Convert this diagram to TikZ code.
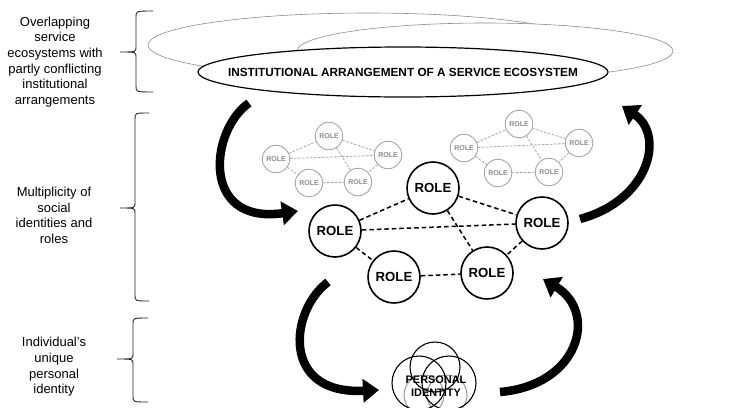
\documentclass[tikz,border=0pt]{standalone}
\usepackage{fontspec}
\setmainfont{Liberation Sans}
\usetikzlibrary{arrows.meta,shapes.geometric}
\begin{document}
\begin{tikzpicture}[x=1pt,y=-1pt,
  lbl/.style={align=center,font=\fontsize{13}{15.6}\selectfont},
  grayell/.style={ellipse,draw=black!45,line width=0.6pt,fill=white,inner sep=0pt},
  bigrole/.style={circle,draw,line width=1.6pt,minimum size=52pt,inner sep=0pt,fill=white,font=\fontsize{13.2}{15}\selectfont\bfseries},
  smallrole/.style={circle,draw=black!35,line width=0.9pt,minimum size=27.5pt,inner sep=0pt,fill=white,text=black!45,font=\fontsize{7}{8}\selectfont\bfseries},
  blink/.style={line width=1.5pt,dash pattern=on 4.5pt off 3pt},
  glink/.style={line width=0.8pt,draw=black!35,dash pattern=on 2.5pt off 1.5pt},
  bigarrow/.style={line width=8.5pt,-{Triangle[length=16pt,width=23pt]}},
  bracestyle/.style={line width=0.9pt,draw=black!85},
  pcirc/.style={circle,draw,line width=1.1pt,inner sep=0pt},
  gcirc/.style={circle,draw=black!40,line width=1pt,inner sep=0pt}
]
\useasboundingbox (0,0) rectangle (735,407);

% ---- braces ----
\draw[bracestyle] (153,11) .. controls (136,11) .. (136,17) -- (136,47) .. controls (136,52) .. (120,52) .. controls (136,52) .. (136,57) -- (136,86) .. controls (136,92) .. (153,92);
\draw[bracestyle] (149,113) .. controls (135,113) .. (135,119) -- (135,203) .. controls (135,208) .. (120,208) .. controls (135,208) .. (135,213) -- (135,295) .. controls (135,301) .. (149,301);
\draw[bracestyle] (148,318) .. controls (133,318) .. (133,324) -- (133,354) .. controls (133,359) .. (117,359) .. controls (133,359) .. (133,364) -- (133,396) .. controls (133,402) .. (148,402);

% ---- left labels ----
\node[lbl] (lab1) at (55,62) {Overlapping\\service\\ecosystems with\\partly conflicting\\institutional\\arrangements};
\node[lbl] (lab2) at (54,215.5) {Multiplicity of\\social\\identities and\\roles};
\node[lbl] (lab3) at (54,367) {Individual's\\unique\\personal\\identity};

% ---- ecosystem ellipses ----
\node[grayell,minimum width=440pt,minimum height=64pt] (eco1) at (368,45) {};
\node[grayell,minimum width=376pt,minimum height=56pt] (eco2) at (485,51) {};
\node[ellipse,draw,line width=1.2pt,fill=white,minimum width=410pt,minimum height=50pt] (inst) at (403,72) {};
\node[font=\fontsize{11.8}{14}\selectfont\bfseries] (insttext) at (inst.center) {INSTITUTIONAL ARRANGEMENT OF A SERVICE ECOSYSTEM};

% ---- small gray role clusters ----
\node[smallrole] (l1) at (329,136) {ROLE};
\node[smallrole] (l2) at (276,159) {ROLE};
\node[smallrole] (l3) at (388,155) {ROLE};
\node[smallrole] (l4) at (309,183) {ROLE};
\node[smallrole] (l5) at (358,182) {ROLE};
\draw[glink] (l2) -- (l1);
\draw[glink] (l1) -- (l3);
\draw[glink] (l2) -- (l3);
\draw[glink] (l1) -- (l5);
\draw[glink] (l2) -- (l4);
\draw[glink] (l4) -- (l5);
\draw[glink] (l3) -- (l5);

\node[smallrole] (r1) at (519,124) {ROLE};
\node[smallrole] (r2) at (464,148) {ROLE};
\node[smallrole] (r3) at (579,143) {ROLE};
\node[smallrole] (r4) at (498,173) {ROLE};
\node[smallrole] (r5) at (549,172) {ROLE};
\draw[glink] (r2) -- (r1);
\draw[glink] (r1) -- (r3);
\draw[glink] (r2) -- (r3);
\draw[glink] (r1) -- (r5);
\draw[glink] (r2) -- (r4);
\draw[glink] (r4) -- (r5);
\draw[glink] (r3) -- (r5);

% ---- main roles ----
\node[bigrole] (m1) at (433,188) {ROLE};
\node[bigrole] (m2) at (335,231) {ROLE};
\node[bigrole] (m3) at (542,223) {ROLE};
\node[bigrole] (m4) at (394,277) {ROLE};
\node[bigrole] (m5) at (487,273) {ROLE};
\draw[blink] (m2) -- (m1);
\draw[blink] (m1) -- (m3);
\draw[blink] (m2) -- (m3);
\draw[blink] (m1) -- (m5);
\draw[blink] (m2) -- (m4);
\draw[blink] (m4) -- (m5);
\draw[blink] (m3) -- (m5);

% ---- personal identity ----
\node[gcirc,minimum size=40pt] (g1) at (447,395) {};
\node[gcirc,minimum size=40pt] (g2) at (424,395) {};
\node[pcirc,minimum size=50pt] (p1) at (435,367) {};
\node[pcirc,minimum size=54pt] (p2) at (419,383) {};
\node[pcirc,minimum size=54pt] (p3) at (449,383) {};
\node[align=center,font=\fontsize{10.9}{12.4}\selectfont\bfseries] (pid) at (436,386) {PERSONAL\\IDENTITY};

% ---- big curved arrows ----
\coordinate (a1s) at (249,103);
\coordinate (a1e) at (298,211);
\coordinate (a2s) at (580,219);
\coordinate (a2e) at (622,106);
\coordinate (a3s) at (328,282);
\coordinate (a3e) at (379,390);
\coordinate (a4s) at (500,392);
\coordinate (a4e) at (543,279);
\draw[bigarrow] (a1s) .. controls (210,130) and (200,225) .. (a1e);
\draw[bigarrow] (a2s) .. controls (650,200) and (665,135) .. (a2e);
\draw[bigarrow] (a3s) .. controls (290,310) and (280,395) .. (a3e);
\draw[bigarrow] (a4s) .. controls (580,385) and (598,312) .. (a4e);
\end{tikzpicture}
\end{document}
